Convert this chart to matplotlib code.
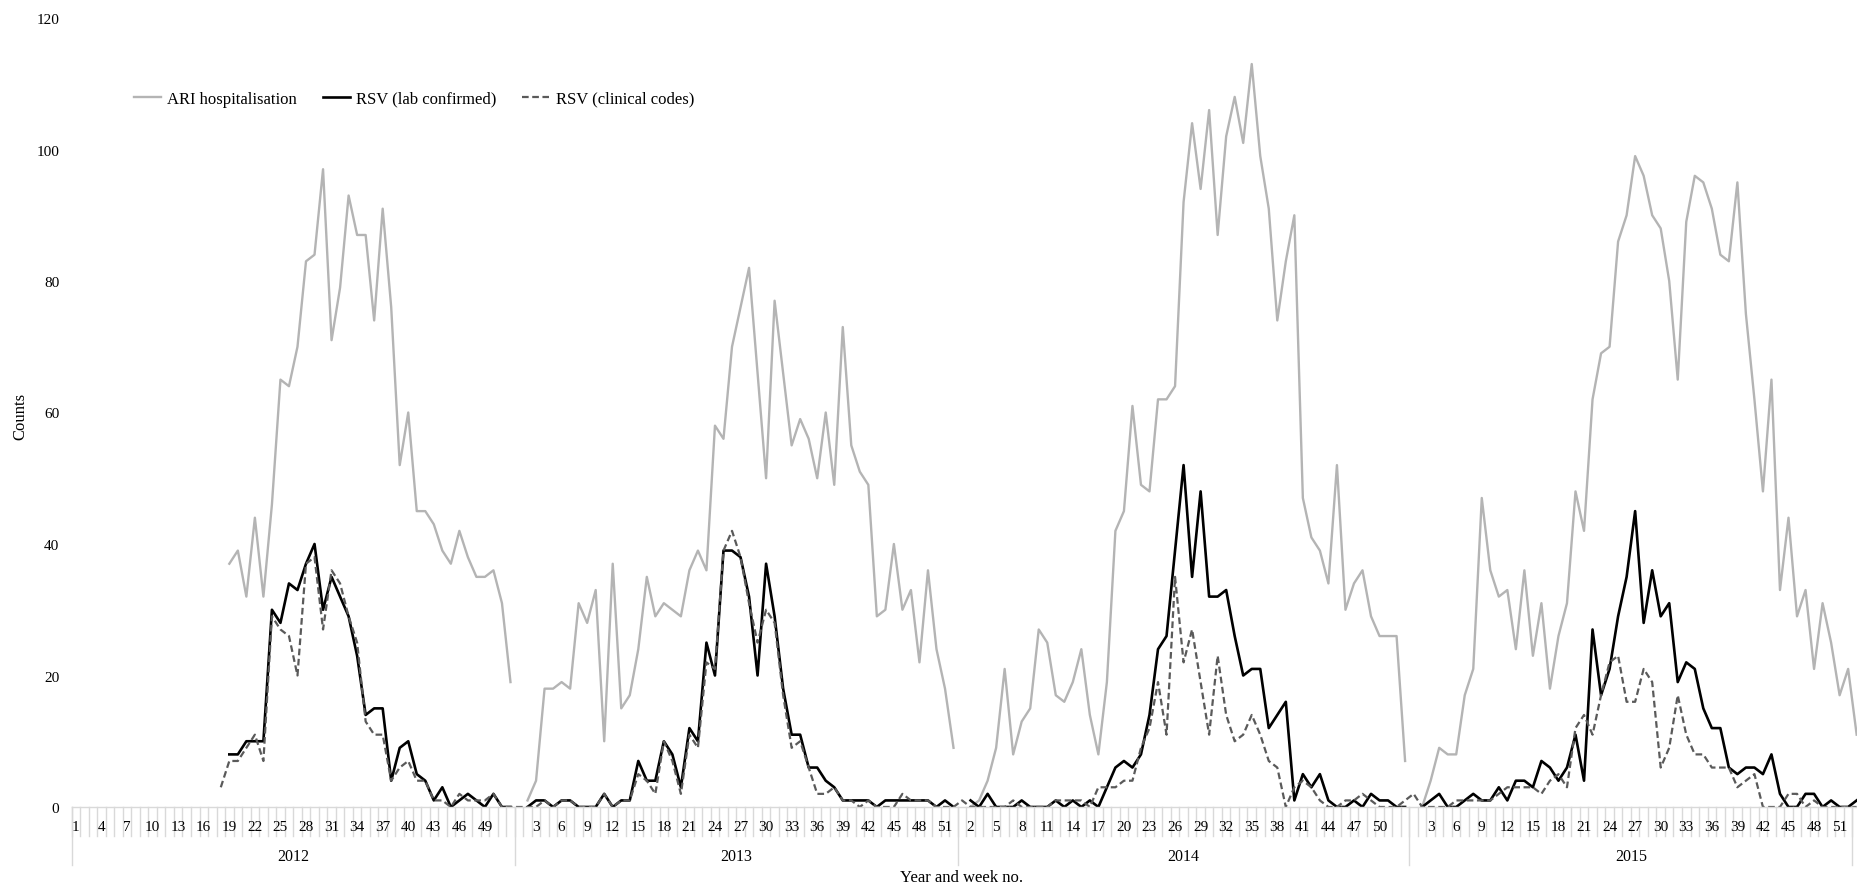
import numpy as np
import matplotlib.pyplot as plt
from matplotlib import transforms

plt.rcParams['font.family'] = ['Liberation Serif', 'DejaVu Serif']

years = ['2012', '2013', '2014', '2015']
weeks_in_year = [52, 52, 53, 52]

# weekly counts per year, week 1 first (None = no record for that week)
ari_2012 = [None] * 18 + [37, 39, 32, 44, 32, 46, 65, 64, 70, 83, 84, 97, 71, 79, 93, 87, 87,
                          74, 91, 76, 52, 60, 45, 45, 43, 39, 37, 42, 38, 35, 35, 36, 31, 19]
lab_2012 = [None] * 18 + [8, 8, 10, 10, 10, 30, 28, 34, 33, 37, 40, 30, 35, 32, 29, 23, 14,
                          15, 15, 4, 9, 10, 5, 4, 1, 3, 0, 1, 2, 1, 0, 2, 0, 0]
clin_2012 = [None] * 17 + [3, 7, 7, 9, 11, 7, 29, 27, 26, 20, 37, 38, 27, 36, 34, 29, 25, 13,
                           11, 11, 4, 6, 7, 4, 4, 1, 1, 0, 2, 1, 1, 1, 2, 0, 0]

ari_2013 = [None, 1, 4, 18, 18, 19, 18, 31, 28, 33, 10, 37, 15, 17, 24, 35, 29, 31, 30, 29,
            36, 39, 36, 58, 56, 70, 76, 82, 66, 50, 77, 66, 55, 59, 56, 50, 60, 49, 73, 55,
            51, 49, 29, 30, 40, 30, 33, 22, 36, 24, 18, 9]
lab_2013 = [None, 0, 1, 1, 0, 1, 1, 0, 0, 0, 2, 0, 1, 1, 7, 4, 4, 10, 8, 3,
            12, 10, 25, 20, 39, 39, 38, 32, 20, 37, 29, 18, 11, 11, 6, 6, 4, 3, 1, 1,
            1, 1, 0, 1, 1, 1, 1, 1, 1, 0, 1, 0]
clin_2013 = [0, 0, 0, 1, 0, 1, 1, 0, 0, 0, 2, 0, 1, 1, 5, 4, 2, 10, 7, 2,
             11, 9, 22, 21, 39, 42, 38, 31, 25, 30, 28, 17, 9, 10, 6, 2, 2, 3, 1, 1,
             0, 1, 0, 0, 0, 2, 1, 1, 1, 0, 0, 0]

ari_2014 = [None, 0, 1, 4, 9, 21, 8, 13, 15, 27, 25, 17, 16, 19, 24, 14, 8, 19, 42, 45,
            61, 49, 48, 62, 62, 64, 92, 104, 94, 106, 87, 102, 108, 101, 113, 99, 91, 74, 83, 90,
            47, 41, 39, 34, 52, 30, 34, 36, 29, 26, 26, 26, 7]
lab_2014 = [None, 1, 0, 2, 0, 0, 0, 1, 0, 0, 0, 1, 0, 1, 0, 1, 0, 3, 6, 7,
            6, 8, 14, 24, 26, 39, 52, 35, 48, 32, 32, 33, 26, 20, 21, 21, 12, 14, 16, 1,
            5, 3, 5, 1, 0, 0, 1, 0, 2, 1, 1, 0, 0]
clin_2014 = [1, 0, 0, 0, 0, 0, 1, 0, 0, 0, 0, 1, 1, 1, 1, 0, 3, 3, 3, 4,
             4, 9, 12, 19, 11, 35, 22, 27, 19, 11, 23, 14, 10, 11, 14, 11, 7, 6, 0, 3,
             4, 3, 1, 0, 0, 1, 1, 2, 1, 0, 0, 0, 1]

ari_2015 = [None, 0, 4, 9, 8, 8, 17, 21, 47, 36, 32, 33, 24, 36, 23, 31, 18, 26, 31, 48,
            42, 62, 69, 70, 86, 90, 99, 96, 90, 88, 80, 65, 89, 96, 95, 91, 84, 83, 95, 75,
            62, 48, 65, 33, 44, 29, 33, 21, 31, 25, 17, 21]
lab_2015 = [None, 0, 1, 2, 0, 0, 1, 2, 1, 1, 3, 1, 4, 4, 3, 7, 6, 4, 6, 11,
            4, 27, 17, 21, 29, 35, 45, 28, 36, 29, 31, 19, 22, 21, 15, 12, 12, 6, 5, 6,
            6, 5, 8, 2, 0, 0, 2, 2, 0, 1, 0, 0]
clin_2015 = [2, 0, 0, 0, 0, 1, 1, 1, 1, 1, 2, 3, 3, 3, 3, 2, 4, 5, 3, 12,
             14, 11, 17, 22, 23, 16, 16, 21, 19, 6, 9, 17, 11, 8, 8, 6, 6, 6, 3, 4,
             5, 0, 0, 0, 2, 2, 0, 1, 0, 0, 0, 0]

# first week of the following year, only partly in view
ari_next = [11]
lab_next = [1]
clin_next = [0]

ari = np.array(ari_2012 + ari_2013 + ari_2014 + ari_2015 + ari_next, dtype=float)
lab = np.array(lab_2012 + lab_2013 + lab_2014 + lab_2015 + lab_next, dtype=float)
clin = np.array(clin_2012 + clin_2013 + clin_2014 + clin_2015 + clin_next, dtype=float)

n_total = sum(weeks_in_year)
x = np.arange(len(ari)) + 0.5

W, H = 1858, 887
fig = plt.figure(figsize=(W / 100, H / 100), dpi=100)
ax_left, ax_bottom, ax_top = 71.7, 808, 19
ax = fig.add_axes([ax_left / W, 1 - ax_bottom / H, 1 - ax_left / W, (ax_bottom - ax_top) / H])

l1, = ax.plot(x, ari, color='#b4b4b4', lw=1.7, label='ARI hospitalisation')
l2, = ax.plot(x, lab, color='black', lw=1.9, label='RSV (lab confirmed)')
l3, = ax.plot(x, clin, color='#5a5a5a', lw=1.6, dashes=(3, 1.6), label='RSV (clinical codes)')

cat_px = (W - 5.6 - ax_left) / n_total
ax.set_xlim(0, (W - ax_left) / cat_px)
ax.set_ylim(0, 120)
ax.set_yticks(range(0, 121, 20))
ax.tick_params(axis='y', length=0, pad=9, labelsize=11)
ax.set_xticks([])
for s in ['left', 'right', 'top']:
    ax.spines[s].set_visible(False)
ax.spines['bottom'].set_color('#d9d9d9')
ax.spines['bottom'].set_linewidth(1)

# two-level category axis: week numbers, then years
px = 1 / (ax_bottom - ax_top)
trans = transforms.blended_transform_factory(ax.transData, ax.transAxes)
for k in range(n_total + 1):
    ax.plot([k, k], [0, -29 * px], transform=trans, color='#d9d9d9', lw=1, clip_on=False)

start = 0
for year, n in zip(years, weeks_in_year):
    ax.plot([start, start], [0, -58 * px], transform=trans, color='#d9d9d9', lw=1, clip_on=False)
    for w in range(1, n + 1):
        g = start + w - 1
        if g % 3 == 0 and w != n:
            ax.text(g + 0.5, -20 * px, str(w), transform=trans, ha='center', va='center',
                    fontsize=11)
    ax.text(start + n / 2, -49 * px, year, transform=trans, ha='center', va='center', fontsize=11.5)
    start += n
ax.plot([start, start], [0, -58 * px], transform=trans, color='#d9d9d9', lw=1, clip_on=False)

fig.text(962 / W, 1 - 878 / H, 'Year and week no.', ha='center', va='center', fontsize=12)
fig.text(20 / W, 1 - 416 / H, 'Counts', ha='center', va='center', rotation=90, fontsize=12)

fig.legend(handles=[l1, l2, l3], loc='center left', bbox_to_anchor=(134 / W, 1 - 99.5 / H),
           ncol=3, frameon=False, fontsize=12, handlelength=1.6, handletextpad=0.4,
           columnspacing=1.55, borderpad=0, borderaxespad=0)

fig.savefig('out.png', dpi=100)
